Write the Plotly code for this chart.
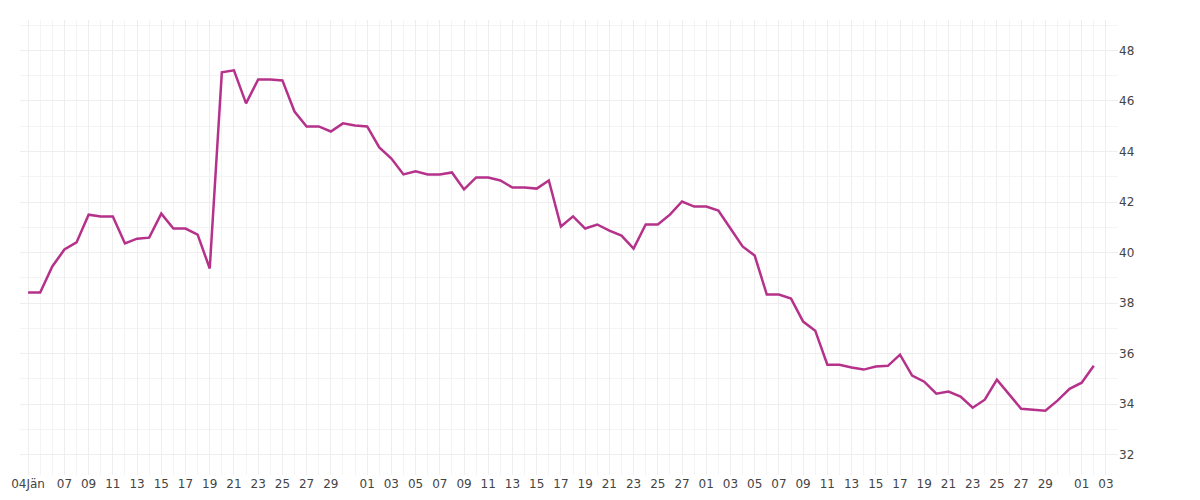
import plotly.graph_objects as go
import pandas as pd

start = "2021-01-04"
values_px = [284,284,258,241,234,206,208,208,235,230,229,205,220,220,226,260,64,62,95,71,71,72,103,118,118,123,115,117,118,139,150,166,163,166,166,164,181,169,169,172,179,179,180,172,218,208,220,216,222,227,240,216,216,206,193,198,198,202,220,238,247,286,286,290,313,322,356,356,359,361,358,357,346,367,373,385,383,388,399,391,371,386,400,401,402,392,380,374,357]
values = [round(48 - (p - 42) / 25.25, 2) for p in values_px]
dates = pd.date_range(start, periods=len(values), freq="D")

tick_dates = ["2021-01-04"] + [f"2021-01-{d:02d}" for d in range(7, 30, 2)] + \
    [f"2021-02-{d:02d}" for d in range(1, 28, 2)] + \
    [f"2021-03-{d:02d}" for d in range(1, 30, 2)] + ["2021-04-01", "2021-04-03"]
tick_text = ["04Jän"] + [d[-2:] for d in tick_dates[1:]]

fig = go.Figure(go.Scatter(x=dates, y=values, mode="lines",
                           line=dict(color="#b5318a", width=2.5), hoverinfo="x+y"))
fig.update_layout(
    width=1200, height=500, paper_bgcolor="white", plot_bgcolor="white",
    margin=dict(l=12, r=90, t=12, b=33), showlegend=False,
    font=dict(family="DejaVu Sans", size=12, color="#444"),
    xaxis=dict(range=["2021-01-03 08:00", "2021-04-04 00:00"], tickvals=tick_dates, ticktext=tick_text,
               showgrid=True, gridcolor="#eeeeee", automargin=False,
               minor=dict(dtick=86400000, showgrid=True, gridcolor="#f4f4f4"),
               zeroline=False, ticks="", tickangle=0),
    yaxis=dict(side="right", range=[31.2, 49.2], dtick=2, tick0=32, showgrid=True, gridcolor="#eeeeee",
               minor=dict(dtick=1, showgrid=True, gridcolor="#f4f4f4"), zeroline=False, ticks="",
               automargin=False),
)
fig.write_html("out.html")
